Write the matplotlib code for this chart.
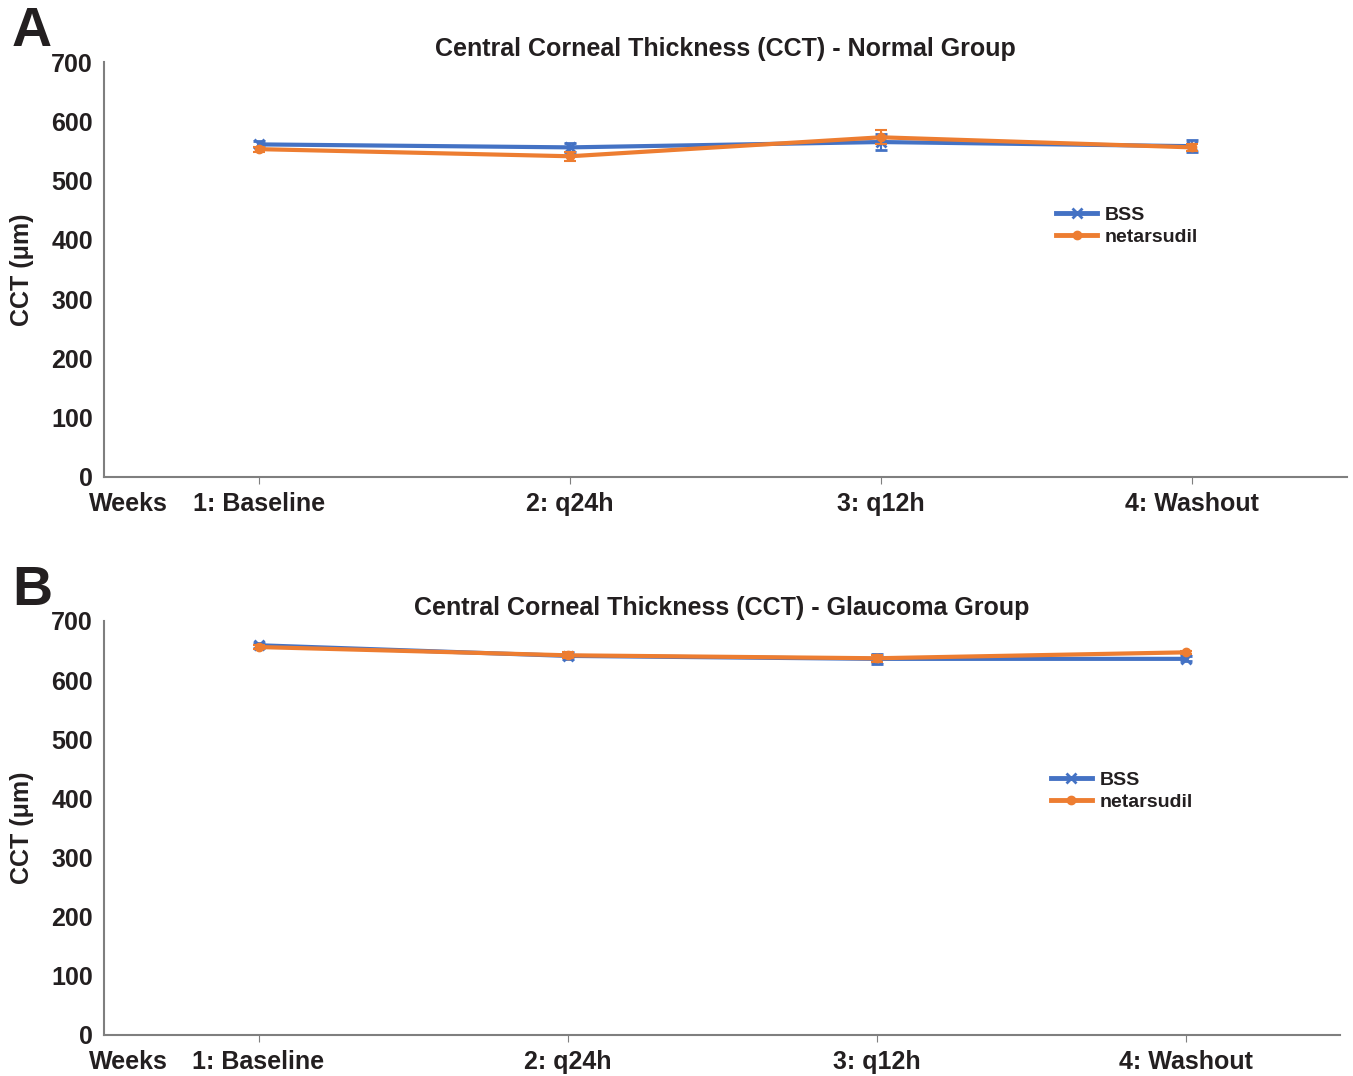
import numpy as np
import matplotlib.pyplot as plt
from matplotlib.lines import Line2D

plt.rcParams['font.family'] = ['Liberation Sans', 'DejaVu Sans']
plt.rcParams['font.weight'] = 'bold'
plt.rcParams['text.color'] = '#231f20'
plt.rcParams['xtick.labelcolor'] = '#231f20'
plt.rcParams['ytick.labelcolor'] = '#231f20'
plt.rcParams['axes.labelcolor'] = '#231f20'

weeks = ['1: Baseline', '2: q24h', '3: q12h', '4: Washout']

# Panel A - Normal group (CCT, um)
normal_bss = [561, 556, 565, 558]
normal_bss_err = [5, 7, 13, 10]
normal_net = [553, 541, 573, 556]
normal_net_err = [4, 8, 12, 6]

# Panel B - Glaucoma group
glauc_bss = [659, 641, 636, 636]
glauc_bss_err = [4, 6, 8, 4]
glauc_net = [656, 642, 637, 647]
glauc_net_err = [3, 5, 6, 3]

BLUE = '#4472C4'
ORANGE = '#ED7D31'
GRAY = '#7f7f7f'

fig = plt.figure(figsize=(13.53, 10.76), dpi=100)


def draw_panel(rect, title, bss, bss_err, net, net_err, letter, letter_xy, leg_xy):
    ax = fig.add_axes(rect)
    x = np.arange(len(weeks))
    ax.errorbar(x, bss, yerr=bss_err, color=BLUE, marker='x', markersize=7,
                markeredgewidth=2, linewidth=3, capsize=4, elinewidth=1.5,
                capthick=1.5, zorder=3)
    ax.errorbar(x, net, yerr=net_err, color=ORANGE, marker='o', markersize=6,
                linewidth=3, capsize=4, elinewidth=1.5, capthick=1.5, zorder=4)
    ax.set_xlim(-0.5, 3.5)
    ax.set_ylim(0, 700)
    ax.set_yticks(range(0, 701, 100))
    ax.set_xticks(x)
    ax.set_xticklabels(weeks, fontsize=18, fontweight='bold')
    ax.tick_params(axis='y', length=0, labelsize=18, pad=8)
    ax.tick_params(axis='x', length=5, color=GRAY, direction='out', pad=6)
    for lab in ax.get_yticklabels():
        lab.set_fontweight('bold')
    for s in ('top', 'right'):
        ax.spines[s].set_visible(False)
    for s in ('left', 'bottom'):
        ax.spines[s].set_color(GRAY)
        ax.spines[s].set_linewidth(1.5)
    ax.set_ylabel('CCT (μm)', fontsize=18, fontweight='bold', labelpad=12)
    ax.set_title(title, fontsize=18, fontweight='bold', pad=4)
    ax.annotate('Weeks', xy=(-0.012, 0), xycoords='axes fraction',
                xytext=(0, -11), textcoords='offset points', fontsize=18,
                fontweight='bold', ha='left', va='top')
    handles = [
        Line2D([], [], color=BLUE, marker='x', markersize=7, markeredgewidth=2,
               linewidth=3.5),
        Line2D([], [], color=ORANGE, marker='o', markersize=6, linewidth=3.5),
    ]
    leg = ax.legend(handles, ['BSS', 'netarsudil'], loc='upper left',
                    bbox_to_anchor=leg_xy, frameon=False,
                    fontsize=14, handlelength=2.1, handletextpad=0.4,
                    labelspacing=0.25)
    for t in leg.get_texts():
        t.set_fontweight('bold')
    fig.text(letter_xy[0], letter_xy[1], letter, fontsize=40, fontweight='bold',
             ha='left', va='top')
    return ax


draw_panel([104 / 1353, 1 - 477 / 1076, 1243 / 1353, 415 / 1076],
           'Central Corneal Thickness (CCT) - Normal Group',
           normal_bss, normal_bss_err, normal_net, normal_net_err,
           'A', (12 / 1353, 1 - 6 / 1076), (0.752, 0.695))
draw_panel([104 / 1353, 1 - 1035 / 1076, 1236 / 1353, 414 / 1076],
           'Central Corneal Thickness (CCT) - Glaucoma Group',
           glauc_bss, glauc_bss_err, glauc_net, glauc_net_err,
           'B', (12 / 1353, 1 - 565 / 1076), (0.752, 0.68))

fig.savefig('out.png', dpi=100)
